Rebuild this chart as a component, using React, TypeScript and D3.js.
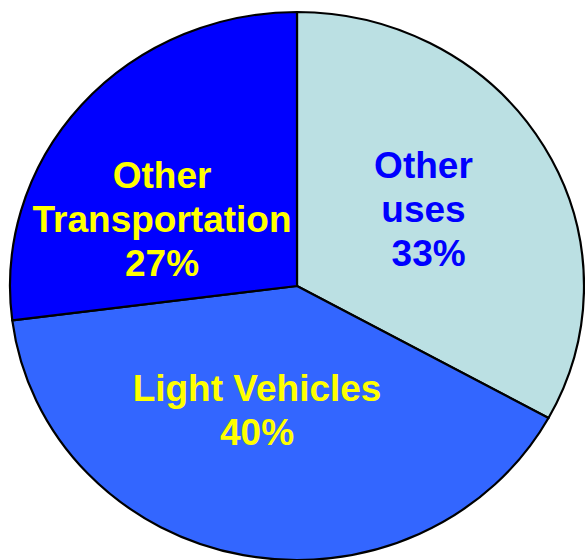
import React from 'react';
import * as d3 from 'd3';

// slices, clockwise from 12 o'clock
const categories = ['Other uses', 'Light Vehicles', 'Other Transportation'];
const shares = [33, 40, 27];
const labelLines = [
  ['Other', 'uses', ' 33%'],
  ['Light Vehicles', '40%'],
  ['Other', 'Transportation', '27%'],
];
const sliceColors = ['#BBE0E3', '#3366FF', '#0000FF'];
const textColors = ['#0000FF', '#FFFF00', '#FFFF00'];
// small hand tweaks so the labels sit where the original has them
const labelNudge = [
  [-2, -4],
  [-12, -16],
  [-23, 27],
];

const W = 585;
const H = 560;
const cx = 297;
const cy = 286;
const rx = 287;
const ry = 274;

const App = () => {
  const pie = d3
    .pie<number>()
    .sort(null)
    .value((d) => d);
  const arcs = pie(shares);

  const arc = d3.arc<d3.PieArcDatum<number>>().innerRadius(0).outerRadius(rx);
  const labelArc = d3
    .arc<d3.PieArcDatum<number>>()
    .innerRadius(rx * 0.52)
    .outerRadius(rx * 0.52);

  const sy = ry / rx;
  const fontSize = 37;
  const lineH = 44;

  return (
    <svg
      width={W}
      height={H}
      style={{ position: 'absolute', left: 0, top: 0, background: '#fff' }}
    >
      <g transform={`translate(${cx},${cy}) scale(1,${sy})`}>
        {arcs.map((a, i) => (
          <path
            key={categories[i]}
            d={arc(a) || ''}
            fill={sliceColors[i]}
            stroke="#000"
            strokeWidth={2.2}
            strokeLinejoin="round"
            vectorEffect="non-scaling-stroke"
          />
        ))}
      </g>
      {arcs.map((a, i) => {
        const [x, y] = labelArc.centroid(a);
        const ax = cx + x + labelNudge[i][0];
        const ay = cy + y * sy + labelNudge[i][1];
        const lines = labelLines[i];
        return (
          <text
            key={categories[i]}
            fill={textColors[i]}
            fontFamily="'Liberation Sans', Arial, sans-serif"
            fontWeight="bold"
            fontSize={fontSize}
            textAnchor="middle"
            style={{ whiteSpace: 'pre' }}
          >
            {lines.map((t, j) => (
              <tspan
                key={j}
                x={ax}
                y={ay + (j - (lines.length - 1) / 2) * lineH + 13}
              >
                {t}
              </tspan>
            ))}
          </text>
        );
      })}
    </svg>
  );
};

export default App;
